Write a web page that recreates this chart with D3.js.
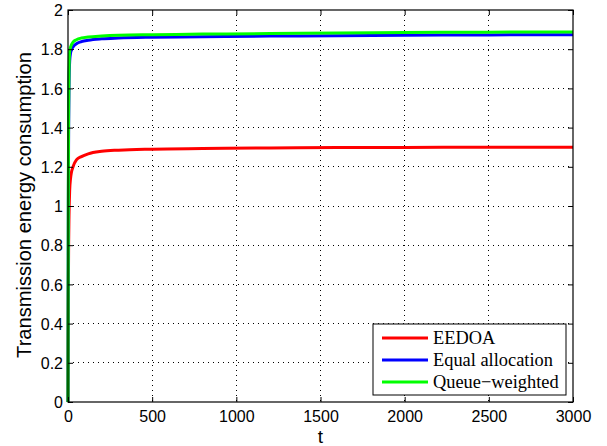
<!DOCTYPE html>
<html><head><meta charset="utf-8">
<script src="https://cdn.jsdelivr.net/npm/d3@7"></script>
<style>body{margin:0;background:#fff}svg{display:block}</style>
</head><body>
<script>
const tValues = [0, 1, 2, 4, 6, 10, 15, 20, 30, 50, 80, 120, 200, 300, 500, 800, 1200, 1600, 2000, 2500, 3000];
const eedoa   = [0, 0.3, 0.55, 0.82, 0.95, 1.08, 1.14, 1.17, 1.2, 1.235, 1.252, 1.266, 1.279, 1.285, 1.29, 1.293, 1.296, 1.298, 1.299, 1.30, 1.30];
const equalAlloc = [0, 0.55, 1.0, 1.42, 1.6, 1.74, 1.78, 1.795, 1.812, 1.828, 1.839, 1.846, 1.853, 1.857, 1.861, 1.864, 1.867, 1.869, 1.871, 1.873, 1.874];
const queueWeighted = [0, 0.6, 1.1, 1.5, 1.68, 1.79, 1.81, 1.822, 1.836, 1.848, 1.857, 1.862, 1.867, 1.871, 1.874, 1.877, 1.88, 1.883, 1.885, 1.887, 1.888];
const seriesNames = ["EEDOA", "Equal allocation", "Queue\u2212weighted"];
const seriesColors = ["#ff0000", "#0000ff", "#00ff00"];
const xTicks = [0, 500, 1000, 1500, 2000, 2500, 3000];
const yTicks = [0, 0.2, 0.4, 0.6, 0.8, 1, 1.2, 1.4, 1.6, 1.8, 2];

const W = 607, H = 446;
const L = 68, R = 573, T = 10, B = 402;
const svg = d3.select("body").append("svg").attr("width", W).attr("height", H);
const x = d3.scaleLinear().domain([0, 3000]).range([L, R]);
const y = d3.scaleLinear().domain([0, 2]).range([B, T]);

// grid
const g = svg.append("g");
g.selectAll(".gx").data(xTicks.slice(1, -1)).enter().append("line")
  .attr("x1", d => x(d)).attr("x2", d => x(d)).attr("y1", T).attr("y2", B)
  .attr("stroke", "#000").attr("stroke-width", 1).attr("stroke-dasharray", "1,4").attr("shape-rendering", "crispEdges");
g.selectAll(".gy").data(yTicks.slice(1, -1)).enter().append("line")
  .attr("y1", d => y(d)).attr("y2", d => y(d)).attr("x1", L).attr("x2", R)
  .attr("stroke", "#000").attr("stroke-width", 1).attr("stroke-dasharray", "1,4").attr("shape-rendering", "crispEdges");

// lines
const series = [eedoa, equalAlloc, queueWeighted];
const line = d3.line().x((d, i) => x(tValues[i])).y(d => y(d)).curve(d3.curveMonotoneX);
[0, 1, 2].forEach(k => {
  svg.append("path").datum(series[k]).attr("d", line)
    .attr("fill", "none").attr("stroke", seriesColors[k]).attr("stroke-width", 3)
    .attr("stroke-linejoin", "round");
});

// axes
const font = "Helvetica, 'Liberation Sans', Arial, sans-serif";
const xAxB = svg.append("g").attr("transform", `translate(0,${B})`)
  .call(d3.axisBottom(x).tickValues(xTicks).tickSizeInner(-5).tickSizeOuter(0).tickPadding(9).tickFormat(d3.format("d")));
const xAxT = svg.append("g").attr("transform", `translate(0,${T})`)
  .call(d3.axisTop(x).tickValues(xTicks).tickSizeInner(-5).tickSizeOuter(0).tickFormat(""));
const yAxL = svg.append("g").attr("transform", `translate(${L},0)`)
  .call(d3.axisLeft(y).tickValues(yTicks).tickSizeInner(-5).tickSizeOuter(0).tickPadding(5).tickFormat(d => d3.format("~g")(d)));
const yAxR = svg.append("g").attr("transform", `translate(${R},0)`)
  .call(d3.axisRight(y).tickValues(yTicks).tickSizeInner(-5).tickSizeOuter(0).tickFormat(""));
[xAxB, xAxT, yAxL, yAxR].forEach(a => {
  a.select(".domain").remove();
  a.selectAll("line").attr("stroke", "#000");
  a.selectAll("text").attr("font-family", font).attr("font-size", 16).attr("fill", "#000");
});
xAxB.selectAll("text").attr("dy", "0.71em");
yAxL.selectAll("text").attr("dy", "0.35em");
svg.append("rect").attr("x", L).attr("y", T).attr("width", R - L).attr("height", B - T)
  .attr("fill", "none").attr("stroke", "#000").attr("stroke-width", 1.2);

// axis labels
svg.append("text").attr("x", (L + R) / 2).attr("y", 443).attr("text-anchor", "middle")
  .attr("font-family", font).attr("font-size", 19).text("t");
const yl = svg.append("text").attr("transform", `translate(31,205) rotate(-90)`).attr("text-anchor", "middle")
  .attr("font-family", font).attr("font-size", 17).text("Transmission energy consumption");
{
  const len = yl.node().getComputedTextLength();
  yl.attr("font-size", 17 * 306 / len);
}

// legend
const lg = svg.append("g");
lg.append("rect").attr("x", 373).attr("y", 324).attr("width", 193).attr("height", 71)
  .attr("fill", "#fff").attr("stroke", "#000").attr("stroke-width", 1);
const legTexts = [];
seriesNames.forEach((n, i) => {
  const yy = 338 + i * 22;
  lg.append("line").attr("x1", 382).attr("x2", 428).attr("y1", yy).attr("y2", yy)
    .attr("stroke", seriesColors[i]).attr("stroke-width", 3);
  legTexts.push(lg.append("text").attr("x", 433).attr("y", yy).attr("dy", "0.35em")
    .attr("font-family", "'Liberation Serif', 'Times New Roman', serif").attr("font-size", 18).text(n));
});
{
  const len = legTexts[1].node().getComputedTextLength();
  const fs = Math.min(19, 18 * 120 / len);
  legTexts.forEach(t => t.attr("font-size", fs));
}
</script>
</body></html>
